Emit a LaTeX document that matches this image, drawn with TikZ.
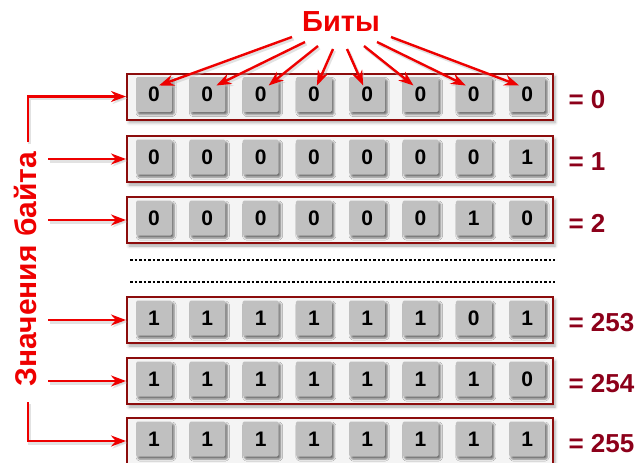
\documentclass[tikz,border=0pt]{standalone}
\usepackage{fontspec}
\setmainfont{Liberation Sans}
\usetikzlibrary{positioning,shadows.blur,arrows.meta,calc}

\definecolor{bitred}{RGB}{238,0,0}
\definecolor{valred}{RGB}{140,0,26}
\definecolor{framered}{RGB}{140,12,12}
\definecolor{cellgray}{RGB}{192,192,192}

\tikzset{
  bytebox/.style={draw=framered, line width=2pt, fill=gray!9, minimum width=426pt,
    minimum height=46pt, inner sep=0pt,
    blur shadow={shadow xshift=2pt, shadow yshift=-3pt, shadow blur radius=3pt, shadow opacity=35}},
  bitbox/.style={fill=cellgray, minimum width=36pt, minimum height=35pt, inner sep=0pt,
    rounded corners=1.5pt,
    blur shadow={shadow xshift=2pt, shadow yshift=-2.5pt, shadow blur radius=2pt, shadow opacity=55},
    font=\fontsize{21}{21}\selectfont\bfseries},
  valtext/.style={anchor=west, text=valred, font=\fontsize{26}{26}\selectfont\bfseries},
  redarrow/.style={bitred, line width=2.4pt, -{Stealth[length=15pt,width=11pt]},
    preaction={draw=gray!50, opacity=.45, line width=3pt,
      transform canvas={shift={(1.5pt,-2pt)}}}},
  dotline/.style={line width=2.8pt, dash pattern=on 2.5pt off 2pt},
}

\begin{document}
\begin{tikzpicture}[x=1pt, y=-1pt]
\useasboundingbox (0,0) rectangle (643,463);
% title
\node[text=bitred, font=\fontsize{29}{29}\selectfont\bfseries] (bits) at (341,22) {Биты};

% bytes
\foreach \r/\y/\bits/\val in {0/96.5/{0,0,0,0,0,0,0,0}/0, 1/159/{0,0,0,0,0,0,0,1}/1,
    2/220/{0,0,0,0,0,0,1,0}/2, 3/320/{1,1,1,1,1,1,0,1}/253,
    4/381/{1,1,1,1,1,1,1,0}/254, 5/441/{1,1,1,1,1,1,1,1}/255}{
  \node[bytebox] (row\r) at (340,\y) {};
  \foreach \b [count=\i] in \bits
    \node[bitbox] (c\r-\i) at ({154+(\i-1)*53.3},\y-2) {\b};
  \node[valtext] (v\r) at (565,\y+3) {= \val};
}

% skipped values
\draw[dotline] (130,260) -- (555,260);
\draw[dotline] (130,282) -- (555,282);

% arrows to the bits
\foreach \i/\sx/\sy/\tx in {1/-49/15/5, 2/-36/20/9, 3/-23/24/8, 4/-8/27/3,
    5/6/27/-4, 6/23/24/-7, 7/36/20/-8, 8/50/15/-8}
  \draw[redarrow] ($(bits.center)+(\sx,\sy)$) -- ($(c0-\i.center)+(\tx,-9)$);

% byte values
\node[rotate=90, text=bitred, font=\fontsize{30}{30}\selectfont\bfseries] (vals) at (25,269) {Значения байта};
\coordinate (topend) at (28,142);
\coordinate (botend) at (28,402);
\coordinate (lx) at (48,0);
\draw[redarrow] (topend) |- (row0.west);
\draw[redarrow] (botend) |- (row5.west);
\foreach \r in {1,2,3,4}
  \draw[redarrow] (row\r.west -| lx) -- (row\r.west);
\end{tikzpicture}
\end{document}
